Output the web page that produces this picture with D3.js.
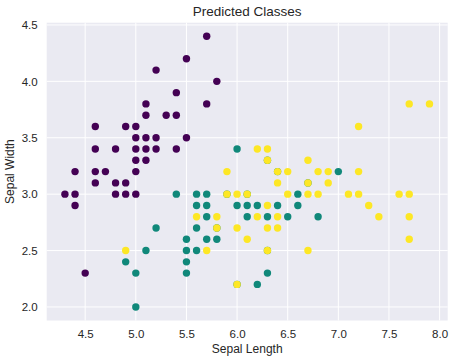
<!DOCTYPE html>
<html>
<head>
<meta charset="utf-8">
<script src="https://cdn.jsdelivr.net/npm/d3@7"></script>
<style>
  body { margin: 0; background: #fff; }
  text { font-family: "Liberation Sans", Arial, sans-serif; fill: #262626; }
</style>
</head>
<body>
<svg id="chart" width="452" height="359"></svg>
<script>
// points, [sepal length, sepal width] per predicted class
var class0 = [
  [4.3,3.0],[4.4,3.0],[4.4,3.2],[4.4,2.9],[4.5,2.3],
  [4.6,3.6],[4.6,3.4],[4.6,3.2],[4.6,3.1],[4.7,3.2],
  [4.8,3.4],[4.8,3.1],[4.8,3.0],[4.9,3.6],[4.9,3.1],[4.9,3.0],
  [5.0,3.6],[5.0,3.5],[5.0,3.4],[5.0,3.3],[5.0,3.2],[5.0,3.0],
  [5.1,3.8],[5.1,3.7],[5.1,3.5],[5.1,3.4],[5.1,3.3],
  [5.2,4.1],[5.2,3.5],[5.2,3.4],[5.3,3.7],
  [5.4,3.9],[5.4,3.7],[5.4,3.4],[5.5,4.2],[5.5,3.5],
  [5.7,4.4],[5.7,3.8],[5.8,4.0]
];
var class1 = [
  [4.9,2.4],[5.0,2.3],[5.0,2.0],[5.1,2.5],[5.2,2.7],[5.4,3.0],
  [5.5,2.6],[5.5,2.5],[5.5,2.4],[5.5,2.3],
  [5.6,3.0],[5.6,2.9],[5.6,2.7],[5.6,2.5],
  [5.7,3.0],[5.7,2.9],[5.7,2.8],[5.7,2.6],[5.8,2.6],[5.8,2.7],
  [5.9,3.0],[6.0,3.4],[6.0,2.9],[6.0,2.2],[6.1,3.0],[6.1,2.9],[6.1,2.8],
  [6.2,2.9],[6.2,2.2],[6.3,3.3],[6.3,2.8],[6.3,2.5],[6.3,2.3],
  [6.4,3.2],[6.4,2.9],[6.5,2.8],[6.6,3.0],[6.6,2.9],[6.7,3.1],
  [6.8,2.8],[7.0,3.2]
];
var class2 = [
  [4.9,2.5],[5.6,2.8],[5.7,2.5],[5.8,2.8],[5.8,2.7],[5.9,3.0],[5.9,3.2],
  [6.0,3.0],[6.0,2.7],[6.0,2.2],[6.1,3.0],[6.1,2.6],
  [6.2,3.4],[6.2,2.8],[6.3,3.4],[6.3,3.3],[6.3,2.9],[6.3,2.7],[6.3,2.5],
  [6.4,3.2],[6.4,3.1],[6.4,2.8],[6.4,2.7],[6.5,3.2],[6.5,3.0],
  [6.7,3.3],[6.7,3.1],[6.7,3.0],[6.7,2.5],[6.8,3.2],[6.8,3.0],
  [6.9,3.2],[6.9,3.1],[7.1,3.0],[7.2,3.6],[7.2,3.2],[7.2,3.0],
  [7.3,2.9],[7.4,2.8],[7.6,3.0],[7.7,3.8],[7.7,3.0],[7.7,2.8],[7.7,2.6],
  [7.9,3.8]
];
var classColors = ["#440154", "#10887a", "#fde725"];
var xTicks = [4.5, 5.0, 5.5, 6.0, 6.5, 7.0, 7.5, 8.0];
var yTicks = [2.0, 2.5, 3.0, 3.5, 4.0, 4.5];

var svg = d3.select("#chart");
var margin = {left: 46.7, right: 4.3, top: 22.7, bottom: 38.5};
var width = 452 - margin.left - margin.right,
    height = 359 - margin.top - margin.bottom;

var x = d3.scaleLinear().domain([4.12, 8.08]).range([0, width]);
var y = d3.scaleLinear().domain([1.88, 4.52]).range([height, 0]);

var g = svg.append("g")
    .attr("transform", "translate(" + margin.left + "," + margin.top + ")");

g.append("rect")
    .attr("width", width)
    .attr("height", height)
    .attr("fill", "#eaeaf2");

// grid lines
g.selectAll(".xgrid").data(xTicks).enter().append("line")
    .attr("x1", function(d) { return x(d); })
    .attr("x2", function(d) { return x(d); })
    .attr("y1", 0).attr("y2", height)
    .attr("stroke", "#fff").attr("stroke-width", 1);
g.selectAll(".ygrid").data(yTicks).enter().append("line")
    .attr("y1", function(d) { return y(d); })
    .attr("y2", function(d) { return y(d); })
    .attr("x1", 0).attr("x2", width)
    .attr("stroke", "#fff").attr("stroke-width", 1);

// axes, no lines, just labels
var xAxis = g.append("g")
    .attr("transform", "translate(0," + height + ")")
    .call(d3.axisBottom(x).tickValues(xTicks).tickFormat(d3.format(".1f")).tickSize(0).tickPadding(9));
var yAxis = g.append("g")
    .call(d3.axisLeft(y).tickValues(yTicks).tickFormat(d3.format(".1f")).tickSize(0).tickPadding(9));
[xAxis, yAxis].forEach(function(a) {
  a.select(".domain").remove();
  a.selectAll("text")
    .attr("fill", "#262626")
    .style("font-family", "'Liberation Sans', Arial, sans-serif")
    .style("font-size", "11.5px");
});

// points, drawn class by class so yellow ends up on top
var allClasses = [class0, class1, class2];
allClasses.forEach(function(pts, i) {
  g.append("g").selectAll("circle")
    .data(pts)
    .enter()
    .append("circle")
      .attr("cx", function(d) { return x(d[0]); })
      .attr("cy", function(d) { return y(d[1]); })
      .attr("r", 3.7)
      .attr("fill", classColors[i]);
});

// title and axis labels
svg.append("text")
    .attr("x", margin.left + width / 2)
    .attr("y", 16)
    .attr("text-anchor", "middle")
    .style("font-size", "13.5px")
    .text("Predicted Classes");
svg.append("text")
    .attr("x", margin.left + width / 2)
    .attr("y", 353)
    .attr("text-anchor", "middle")
    .style("font-size", "12px")
    .text("Sepal Length");
svg.append("text")
    .attr("transform", "translate(14," + (margin.top + height / 2) + ") rotate(-90)")
    .attr("text-anchor", "middle")
    .style("font-size", "12px")
    .text("Sepal Width");
</script>
</body>
</html>
